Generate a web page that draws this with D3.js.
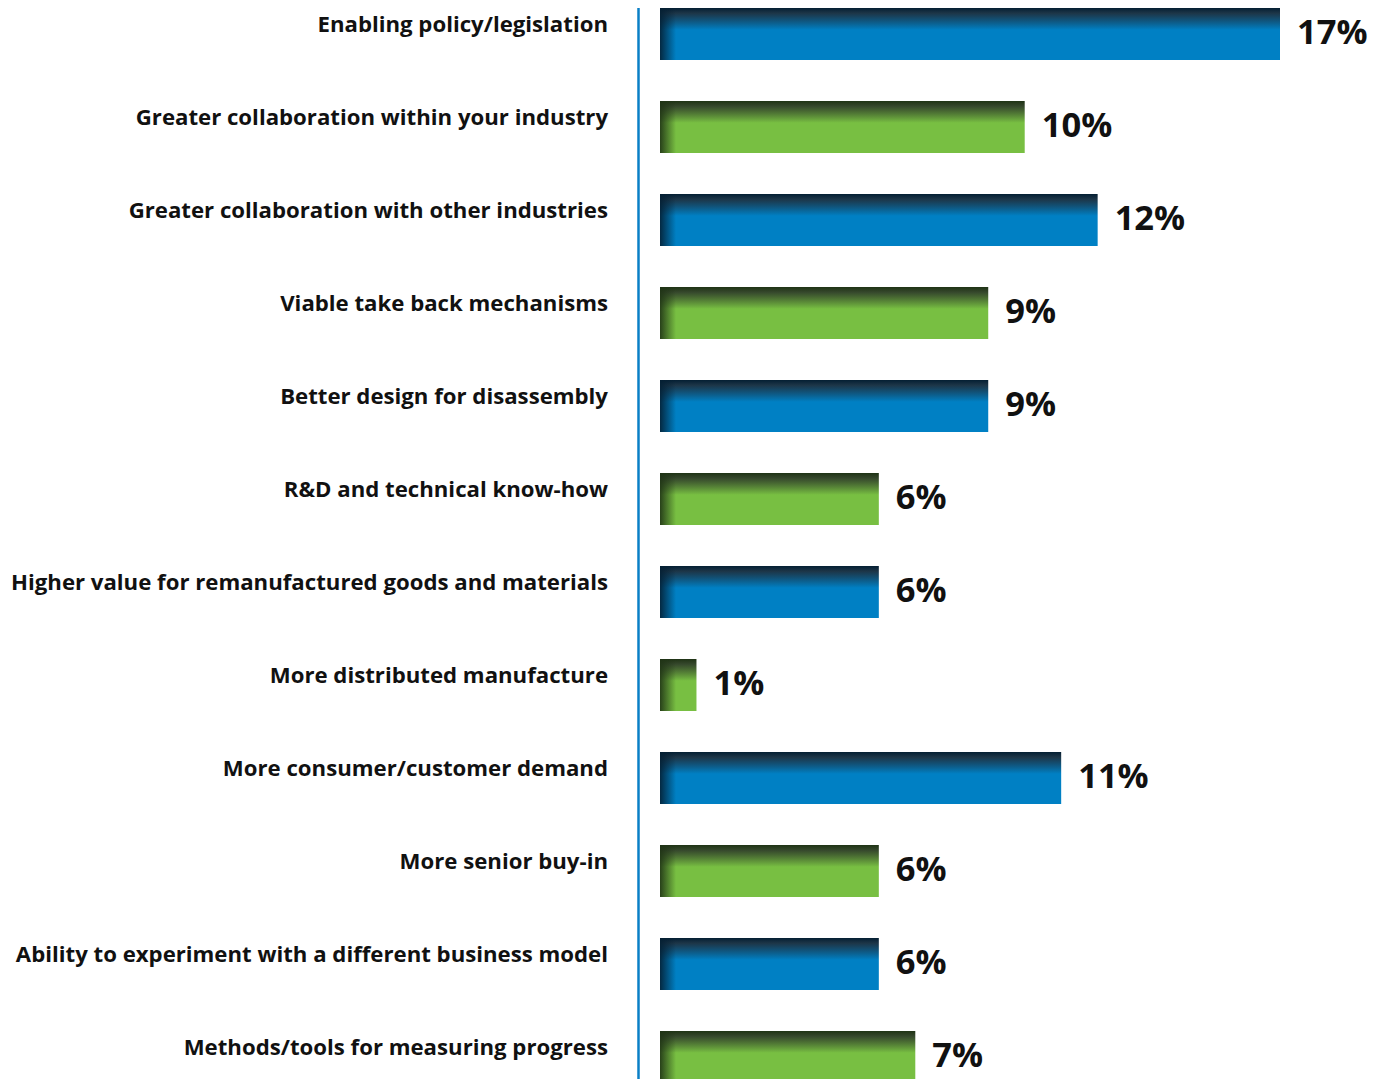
<!DOCTYPE html>
<html>
<head>
<meta charset="utf-8">
<script src="https://cdn.jsdelivr.net/npm/d3@7"></script>
<style>
  html, body { margin: 0; padding: 0; background: #fff; }
  svg { display: block; }
</style>
</head>
<body>
<div id="chart"></div>
<script>
// Categories, values (%) and bar colour series, top to bottom
const categories = [
  "Enabling policy/legislation",
  "Greater collaboration within your industry",
  "Greater collaboration with other industries",
  "Viable take back mechanisms",
  "Better design for disassembly",
  "R&D and technical know-how",
  "Higher value for remanufactured goods and materials",
  "More distributed manufacture",
  "More consumer/customer demand",
  "More senior buy-in",
  "Ability to experiment with a different business model",
  "Methods/tools for measuring progress"
];
const values = [17, 10, 12, 9, 9, 6, 6, 1, 11, 6, 6, 7];
const colorSeries = ["blue", "green", "blue", "green", "blue", "green", "blue", "green", "blue", "green", "blue", "green"];
const valueLabels = ["17%", "10%", "12%", "9%", "9%", "6%", "6%", "1%", "11%", "6%", "6%", "7%"];

const W = 1389, H = 1079;
const x0 = 660;
const palette = { blue: "#0080c4", green: "#78bf42" };
const shade = { blue: "#041f33", green: "#1f3315" };
const FONT = "'Open Sans', Lato, sans-serif";

const svg = d3.select("#chart").append("svg")
  .attr("width", W).attr("height", H);

const x = d3.scaleLinear().domain([0, 17]).range([x0, 1280]);
const y = d3.scaleBand().domain(categories)
  .range([8, 8 + 11 * 93 + 52])
  .paddingInner(41 / 93).paddingOuter(0);

const defs = svg.append("defs");
Object.keys(palette).forEach(k => {
  // Vertical shading: dark along the top edge fading into the fill
  const g = defs.append("linearGradient").attr("id", "v-" + k)
    .attr("x1", 0).attr("y1", 0).attr("x2", 0).attr("y2", 1);
  g.append("stop").attr("offset", "0%").attr("stop-color", shade[k]);
  g.append("stop").attr("offset", "10%").attr("stop-color", shade[k]).attr("stop-opacity", 0.9);
  g.append("stop").attr("offset", "42%").attr("stop-color", palette[k]);
  g.append("stop").attr("offset", "100%").attr("stop-color", palette[k]);
  // Horizontal shading along the left edge
  const h = defs.append("linearGradient").attr("id", "h-" + k)
    .attr("gradientUnits", "userSpaceOnUse")
    .attr("x1", x0).attr("y1", 0).attr("x2", x0 + 16).attr("y2", 0);
  h.append("stop").attr("offset", "0%").attr("stop-color", shade[k]).attr("stop-opacity", 0.9);
  h.append("stop").attr("offset", "100%").attr("stop-color", shade[k]).attr("stop-opacity", 0);
});

// Axis line
svg.append("line")
  .attr("x1", 638.5).attr("x2", 638.5)
  .attr("y1", y.range()[0]).attr("y2", H)
  .attr("stroke", "#0a7fc6").attr("stroke-width", 2.5);

const rows = categories.map((c, i) => ({ c, v: values[i], s: colorSeries[i], lab: valueLabels[i] }));

const g = svg.append("g");
g.selectAll("rect.bar").data(rows).join("rect")
  .attr("class", "bar")
  .attr("x", x(0)).attr("y", d => y(d.c))
  .attr("width", d => x(d.v) - x(0)).attr("height", y.bandwidth())
  .attr("fill", d => `url(#v-${d.s})`);
g.selectAll("rect.edge").data(rows).join("rect")
  .attr("class", "edge")
  .attr("x", x(0)).attr("y", d => y(d.c))
  .attr("width", d => Math.min(16, x(d.v) - x(0))).attr("height", y.bandwidth())
  .attr("fill", d => `url(#h-${d.s})`);

// Category labels, right-aligned next to the axis
g.selectAll("text.cat").data(rows).join("text")
  .attr("class", "cat")
  .attr("x", 608).attr("y", d => y(d.c) + 24)
  .attr("text-anchor", "end")
  .attr("font-family", FONT)
  .attr("font-weight", 700)
  .attr("font-size", 22.2)
  .attr("fill", "#111")
  .text(d => d.c);

// Value labels at the end of each bar
g.selectAll("text.val").data(rows).join("text")
  .attr("class", "val")
  .attr("x", d => x(d.v) + 17)
  .attr("y", d => y(d.c) + y.bandwidth() / 2 + 10)
  .attr("font-family", FONT)
  .attr("font-weight", 700)
  .attr("font-size", 34.5)
  .attr("fill", "#111")
  .text(d => d.lab);
</script>
</body>
</html>
